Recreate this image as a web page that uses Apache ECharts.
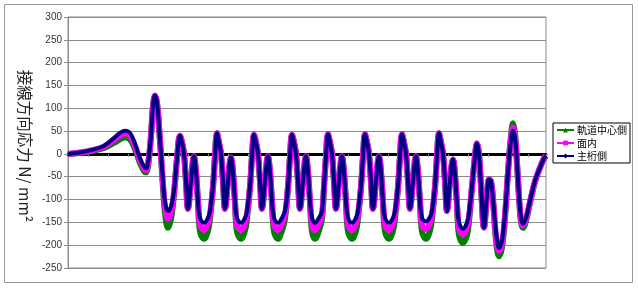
<!DOCTYPE html>
<html><head><meta charset="utf-8">
<script src="https://cdn.jsdelivr.net/npm/echarts@6/dist/echarts.min.js"></script>
<style>html,body{margin:0;padding:0;background:#fff}#c{width:638px;height:293px}</style>
</head><body><div id="c"></div>
<script>
// sample positions along the girder
const xIdx = [
0,6,12,18,23,26,28.5,31,33.5,36,38,39,40,41.5,42.5,43.5,44.5,45.5,46.5,47.5,48.5,50,51.5,53,54.5,
56,57,58,59,60,61.5,63,64,65,66,68,70,71,72.5,73.5,
74.5,75.5,76.5,77.5,78.5,80,81.5,82.5,83.5,84.5,86.5,88.5,89.5,91,92,
93,94,95,96,97,98.5,100,101,102,103,105,107,108.5,110,111,
112,113,114,115,116,117.5,119,120,121,122,123.5,125.5,127,128,129,
130,131,132,133,134,135.5,137,138,139,140,142,144,145,146.5,147.5,
148.5,149.5,150.5,151.5,152.5,154,155.5,156.5,157.5,158.5,160.5,162.5,163.5,165,166,
167,168,169,170,171,172.5,174,175,176,177,179,181,182,183.5,184.5,
185.5,186.5,187.5,188.5,189.5,191,192.5,193.5,194.5,195.5,197.5,199.5,200.5,202,203.5,
204.5,205.5,206.5,208,209.5,210.5,211.5,212.5,214,215.5,217,218.5,220,221.5,
222.5,223.5,224.5,225.5,226.5,227.5,229,231,233.5,236,238,239
];
// 主桁側
const mainSide = [
0,3,9,18,35,46,51,46,22,-10,-28,-32,-20,40,105,128,112,60,0,-60,-105,-125,-115,-80,-10,
40,25,0,-60,-120,-60,-5,-40,-105,-140,-151,-140,-125,-70,-5,
45,25,0,-60,-120,-60,-8,-40,-105,-140,-151,-140,-125,-70,-5,
42,25,0,-60,-120,-60,-5,-40,-105,-140,-151,-140,-125,-70,-5,
42,25,0,-60,-120,-60,-5,-40,-105,-140,-151,-140,-125,-70,-5,
43,25,0,-60,-120,-60,-5,-40,-105,-140,-151,-140,-125,-70,-5,
43,25,0,-60,-120,-60,-5,-40,-105,-140,-151,-140,-125,-70,-5,
43,25,0,-60,-120,-60,-5,-40,-105,-140,-148,-138,-125,-70,-5,
45,25,0,-60,-125,-60,-12,-45,-110,-150,-164,-150,-130,-70,-5,
23,0,-70,-161,-90,-56,-60,-100,-170,-206,-190,-130,-40,30,
51,35,-20,-90,-140,-153,-140,-103,-59,-30,-10,-4
];
// 面内
const inPlane = [
0,3,8,16,31,40,45,40,17,-14,-32,-36,-24,40,105,128,112,60,-2,-65,-115,-142,-128,-85,-10,
40,25,0,-60,-120,-60,-5,-40,-105,-155,-167,-152,-133,-72,-5,
45,25,0,-60,-120,-60,-8,-40,-105,-155,-167,-152,-133,-72,-5,
42,25,0,-60,-120,-60,-5,-40,-105,-155,-167,-152,-133,-72,-5,
42,25,0,-60,-120,-60,-5,-40,-105,-155,-167,-152,-133,-72,-5,
43,25,0,-60,-120,-60,-5,-40,-105,-155,-167,-152,-133,-72,-5,
43,25,0,-60,-120,-60,-5,-40,-105,-155,-167,-152,-133,-72,-5,
43,25,0,-60,-120,-60,-5,-40,-105,-155,-165,-150,-133,-72,-5,
45,25,0,-60,-125,-60,-12,-45,-110,-163,-176,-162,-138,-72,-5,
23,0,-70,-161,-90,-56,-60,-100,-180,-213,-196,-135,-40,35,
58,40,-20,-93,-145,-157,-143,-105,-60,-30,-10,-4
];
// 軌道中心側
const trackCenter = [
0,2,6,13,24,32,36,32,10,-20,-38,-41,-28,40,105,126,112,60,-5,-75,-130,-162,-142,-90,-10,
40,25,0,-60,-120,-60,-5,-40,-105,-170,-186,-168,-142,-74,-5,
45,25,0,-60,-120,-60,-8,-40,-105,-170,-186,-168,-142,-74,-5,
42,25,0,-60,-120,-60,-5,-40,-105,-170,-186,-168,-142,-74,-5,
42,25,0,-60,-120,-60,-5,-40,-105,-170,-186,-168,-142,-74,-5,
43,25,0,-60,-120,-60,-5,-40,-105,-170,-186,-168,-142,-74,-5,
43,25,0,-60,-120,-60,-5,-40,-105,-170,-186,-168,-142,-74,-5,
43,25,0,-60,-120,-60,-5,-40,-105,-170,-186,-168,-142,-74,-5,
45,25,0,-60,-125,-60,-12,-45,-110,-178,-195,-178,-148,-74,-5,
23,0,-70,-161,-90,-56,-60,-100,-190,-224,-205,-140,-40,40,
67,45,-20,-95,-150,-162,-147,-107,-61,-30,-10,-4
];
const seriesNames = ['軌道中心側','面内','主桁側'];
const yTitle = '接線方向応力 N/ mm²';

const chart = echarts.init(document.getElementById('c'), null, {renderer:'canvas'});
const pairs = arr => xIdx.map((x,i)=>[x, arr[i]]);
const grey = '#8c8c8c';
chart.setOption({
  animation:false,
  backgroundColor:'#fff',
  grid:{left:68,right:92,top:17,bottom:25,show:true,borderColor:grey,borderWidth:1},
  xAxis:{type:'value',min:0,max:239,interval:10,
    axisLine:{onZero:true,lineStyle:{color:'#000',width:3}},
    axisTick:{show:true,length:3,lineStyle:{color:grey}},
    axisLabel:{show:false},splitLine:{show:false}},
  yAxis:{type:'value',min:-250,max:300,interval:50,
    axisLine:{show:true,lineStyle:{color:grey}},
    axisTick:{show:true,length:4,lineStyle:{color:grey}},
    axisLabel:{fontSize:10,color:'#333',margin:6,fontFamily:'Liberation Sans'},
    splitLine:{lineStyle:{color:grey,width:1}}},
  legend:{orient:'vertical',left:553,top:123,padding:[2,3,2,3],
    borderColor:'#000',borderWidth:1,backgroundColor:'#fff',
    itemWidth:17,itemHeight:6,itemGap:3,
    textStyle:{fontSize:10,color:'#000',fontFamily:'Noto Sans CJK JP',padding:[0,0,0,-2]},
    data:seriesNames},
  graphic:[
    {type:'rect',shape:{x:4.5,y:4.5,width:628,height:278},style:{fill:'none',stroke:'#999',lineWidth:1},silent:true},
    {type:'text',x:25,y:146,rotation:-Math.PI/2,
      style:{text:yTitle,fontSize:15.5,fill:'#222',fontFamily:'Noto Sans CJK JP',textAlign:'center',textVerticalAlign:'middle'}}
  ],
  series:[
    {name:seriesNames[0],type:'line',data:pairs(trackCenter),smooth:0.4,symbol:'triangle',symbolSize:6,showSymbol:false,
      lineStyle:{color:'#008000',width:6},itemStyle:{color:'#008000'}},
    {name:seriesNames[1],type:'line',data:pairs(inPlane),smooth:0.4,symbol:'rect',symbolSize:5,showSymbol:false,
      lineStyle:{color:'#ff00ff',width:6},itemStyle:{color:'#ff00ff'}},
    {name:seriesNames[2],type:'line',data:pairs(mainSide),smooth:0.4,symbol:'diamond',symbolSize:6,showSymbol:false,
      lineStyle:{color:'#000080',width:4},itemStyle:{color:'#000080'}}
  ]
});
</script></body></html>
